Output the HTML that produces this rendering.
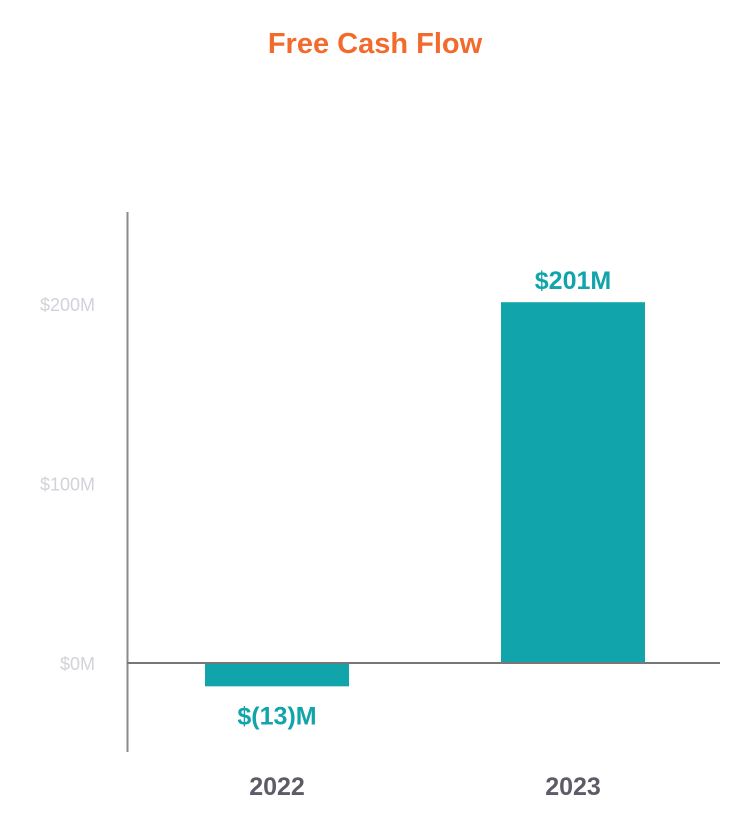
<!DOCTYPE html>
<html><head><meta charset="utf-8"><style>
body{margin:0;background:#fff;width:750px;height:830px;overflow:hidden;font-family:"Liberation Sans",sans-serif}
</style></head><body>
<svg id="chart" width="750" height="830">
<text x="375" y="53" text-anchor="middle" font-size="29" font-weight="bold" fill="#f26a2c">Free Cash Flow</text>
<g id="plot"></g>
</svg>
<script>
const categories=["2022","2023"];
const values=[-13,201];
const valueLabels=["$(13)M","$201M"];
const tickValues=[0,100,200];
const tickLabels=["$0M","$100M","$200M"];
const ns="http://www.w3.org/2000/svg";
const g=document.getElementById('plot');
const y=v=>663-v*1.795;
const x=i=>205+i*296;
const bw=144;
function mk(t,a,txt){const e=document.createElementNS(ns,t);for(const k in a)e.setAttribute(k,a[k]);if(txt!==undefined)e.textContent=txt;g.appendChild(e);return e;}
tickValues.forEach((v,i)=>{
 const e=mk('text',{x:95,y:y(v)+7,'text-anchor':'end','font-size':18,fill:'#d2d2da'},tickLabels[i]);
 
 
});
categories.forEach((c,i)=>{
 const v=values[i];
 const r=mk('rect',{x:x(i),y:Math.min(y(v),y(0)),width:bw,height:Math.abs(y(v)-y(0)),fill:'#12a4ab'});
 
 
 const ly=v>=0?y(v)-13:y(v)+38;
 const l=mk('text',{x:x(i)+bw/2,y:ly,'text-anchor':'middle','font-size':25,'font-weight':'bold',fill:'#12a4ab'},valueLabels[i]);
 
 
 const cl=mk('text',{x:x(i)+bw/2,y:795,'text-anchor':'middle','font-size':25,'font-weight':'bold',fill:'#5b5c66'},c);
 
 
});
const ya=mk('line',{x1:127.5,y1:212,x2:127.5,y2:752,stroke:'#8a8a8a','stroke-width':2});


const z=mk('line',{x1:127,y1:663,x2:720,y2:663,stroke:'#777','stroke-width':2});


</script>
</body></html>
